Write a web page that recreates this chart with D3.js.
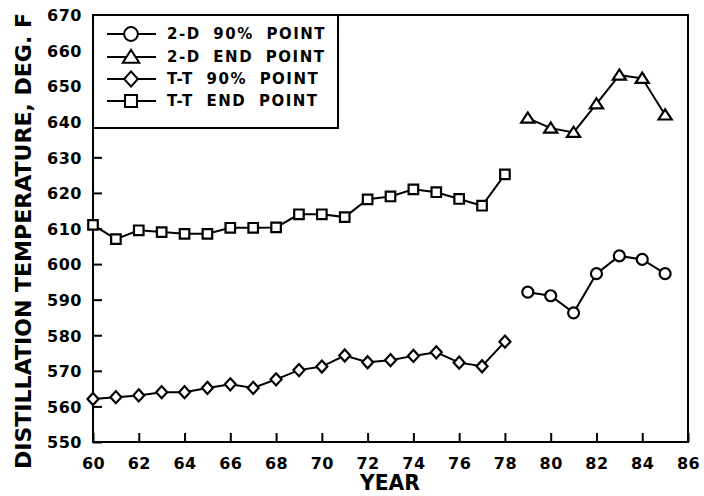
<!DOCTYPE html>
<html><head><meta charset="utf-8">
<script src="https://cdn.jsdelivr.net/npm/d3@7"></script>
<style>
body{margin:0;background:#fff;}
text{font-family:"DejaVu Sans",sans-serif;fill:#000;}
</style></head>
<body><svg id="c" width="704" height="496"></svg>
<script>
const ttYears = [60,61,62,63,64,65,66,67,68,69,70,71,72,73,74,75,76,77,78];
const ttEnd   = [611,607,609.5,609,608.5,608.5,610.2,610.2,610.3,614,614,613.2,618.2,619,621,620.2,618.3,616.4,625.2];
const tt90    = [562.1,562.6,563.1,564,564,565.2,566.2,565.2,567.6,570.2,571.2,574.3,572.4,573,574.2,575.2,572.3,571.3,578.2];
const tdYears = [79,80,81,82,83,84,85];
const td90    = [592.1,591.1,586.3,597.3,602.3,601.3,597.3];
const tdEnd   = [641,638.2,637,645,653.1,652.2,641.9];
const xTicks = [60,62,64,66,68,70,72,74,76,78,80,82,84,86];
const yTicks = [550,560,570,580,590,600,610,620,630,640,650,660,670];
const seriesNames = ["2-D 90% POINT","2-D END POINT","T-T 90% POINT","T-T END POINT"];

const svg = d3.select("#c");
const L=93, R=688, T=15, B=442;
const x = d3.scaleLinear().domain([60,86]).range([L,R]);
const y = d3.scaleLinear().domain([550,670]).range([B,T]);

svg.append("rect").attr("x",L).attr("y",T).attr("width",R-L).attr("height",B-T)
  .attr("fill","none").attr("stroke","#000").attr("stroke-width",2);

const xa = svg.append("g").attr("transform",`translate(0,${B})`)
  .call(d3.axisBottom(x).tickValues(xTicks).tickSize(-9).tickPadding(12).tickFormat(d3.format("d")));
const ya = svg.append("g").attr("transform",`translate(${L},0)`)
  .call(d3.axisLeft(y).tickValues(yTicks).tickSize(-9).tickPadding(11).tickFormat(d3.format("d")));
[xa,ya].forEach(g=>{
  g.select(".domain").remove();
  g.selectAll(".tick line").attr("stroke","#000").attr("stroke-width",2);
  g.selectAll(".tick text").style("font-size","16px").style("font-weight","bold").style("letter-spacing","0.5px");
});
xa.selectAll(".tick text").attr("dy","0.95em");
ya.selectAll(".tick text").attr("dy","0.36em");

svg.append("text").attr("x",390).attr("y",490).attr("text-anchor","middle")
  .attr("textLength",60).attr("lengthAdjust","spacingAndGlyphs")
  .style("font-size","21px").style("font-weight","bold").text("YEAR");
svg.append("text").attr("transform","translate(31,241) rotate(-90)").attr("text-anchor","middle")
  .attr("textLength",456).attr("lengthAdjust","spacingAndGlyphs")
  .style("font-size","22px").style("font-weight","bold").text("DISTILLATION TEMPERATURE, DEG. F");

function marker(k, s){
  if(k===0){const p=d3.path(); p.arc(0,0,s,0,2*Math.PI); p.closePath(); return p.toString();}
  if(k===1) return `M0,${-s*0.95}L${s*1.1},${s*0.75}L${-s*1.1},${s*0.75}Z`;
  if(k===2) return `M0,${-s*1.1}L${s},0L0,${s*1.1}L${-s},0Z`;
  return `M${-s*0.9},${-s*0.9}H${s*0.9}V${s*0.9}H${-s*0.9}Z`;
}
const mSize = [5.5, 6, 5.5, 5.3];

const line = d3.line().x(d=>x(d[0])).y(d=>y(d[1]));
const data = [
  tdYears.map((v,i)=>[v,td90[i]]),
  tdYears.map((v,i)=>[v,tdEnd[i]]),
  ttYears.map((v,i)=>[v,tt90[i]]),
  ttYears.map((v,i)=>[v,ttEnd[i]])
];
data.forEach((pts,k)=>{
  svg.append("path").attr("d",line(pts)).attr("fill","none").attr("stroke","#000").attr("stroke-width",2);
  svg.append("g").selectAll("path").data(pts).join("path")
    .attr("transform",d=>`translate(${x(d[0])},${y(d[1])})`)
    .attr("d",marker(k,mSize[k]))
    .attr("fill","#fff").attr("stroke","#000").attr("stroke-width",2.2);
});

const lg = svg.append("g");
lg.append("rect").attr("x",L).attr("y",T).attr("width",245).attr("height",113)
  .attr("fill","#fff").attr("stroke","#000").attr("stroke-width",2);
const rowY = [34,57,79,101];
seriesNames.forEach((n,k)=>{
  lg.append("line").attr("x1",107).attr("x2",156).attr("y1",rowY[k]).attr("y2",rowY[k])
    .attr("stroke","#000").attr("stroke-width",2);
  lg.append("path").attr("transform",`translate(131,${rowY[k]})`)
    .attr("d",marker(k,mSize[k]*1.25))
    .attr("fill","#fff").attr("stroke","#000").attr("stroke-width",2);
  lg.append("text").attr("x",167).attr("y",rowY[k]).attr("dy","0.36em")
    .style("font-size","15px").style("font-weight","bold").style("letter-spacing","1.5px").style("word-spacing","6px")
    .text(n);
});
</script></body></html>
